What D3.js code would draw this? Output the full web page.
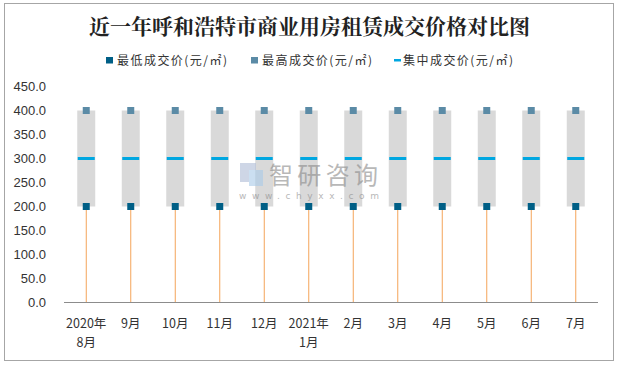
<!DOCTYPE html>
<html><head><meta charset="utf-8">
<script src="https://cdn.jsdelivr.net/npm/d3@7"></script>
<style>body{margin:0;background:#fff}svg{display:block}</style>
</head><body>
<script>
const categories = [["2020年","8月"],["9月"],["10月"],["11月"],["12月"],["2021年","1月"],["2月"],["3月"],["4月"],["5月"],["6月"],["7月"]];
const lowPrice  = [200,200,200,200,200,200,200,200,200,200,200,200];
const highPrice = [400,400,400,400,400,400,400,400,400,400,400,400];
const midPrice  = [300,300,300,300,300,300,300,300,300,300,300,300];
const yTicks = [0,50,100,150,200,250,300,350,400,450];
const seriesNames = ["最低成交价(元/㎡)","最高成交价(元/㎡)","集中成交价(元/㎡)"];

const W=618,H=365;
const svg=d3.select("body").append("svg").attr("width",W).attr("height",H);
svg.append("rect").attr("x",4.5).attr("y",3.5).attr("width",609).attr("height",357)
  .attr("fill","#fff").attr("stroke","#a6a6a6").attr("stroke-width",1);

const x=d3.scaleBand().domain(d3.range(categories.length)).range([64,598]).padding(0);
const y=d3.scaleLinear().domain([0,450]).range([302.5,86.5]);

svg.append("text").attr("x",309.5).attr("y",34).attr("text-anchor","middle")
  .attr("font-family","'Noto Serif CJK SC','Noto Sans CJK SC',serif").attr("font-weight","bold")
  .attr("font-size",21).attr("fill","#222").text("近一年呼和浩特市商业用房租赁成交价格对比图");

// legend
const lg=svg.append("g").attr("font-family","'Noto Sans CJK SC',sans-serif").attr("font-size",12).attr("fill","#333");
lg.append("rect").attr("x",106).attr("y",57).attr("width",7).attr("height",6.5).attr("fill","#005f86");
lg.append("rect").attr("x",251).attr("y",57).attr("width",7).attr("height",6.5).attr("fill","#5b8ba6");
lg.append("rect").attr("x",394).attr("y",59).attr("width",7).attr("height",2.5).attr("fill","#00a7e1");
[117,262,403].forEach((t,i)=>lg.append("text").attr("x",t).attr("y",64.5)
  .attr("textLength",110).attr("lengthAdjust","spacing").text(seriesNames[i]));

// y axis labels
svg.append("g").selectAll("text").data(yTicks).join("text")
  .attr("x",46).attr("y",d=>y(d)+4.5).attr("text-anchor","end")
  .attr("font-family","'Liberation Sans',Arial,sans-serif").attr("font-size",13).attr("fill","#333")
  .text(d=>d.toFixed(1));

const g=svg.append("g");
const idx=d3.range(categories.length);
const cx=i=>x(i)+x.bandwidth()/2;
// orange drop lines
g.selectAll(".drop").data(idx).join("line")
  .attr("x1",cx).attr("x2",cx).attr("y1",y(0)).attr("y2",i=>y(lowPrice[i]))
  .attr("stroke","#f4a45a").attr("stroke-width",1);
// grey up-down bars
g.selectAll(".box").data(idx).join("rect")
  .attr("x",i=>cx(i)-9).attr("width",18)
  .attr("y",i=>y(highPrice[i])).attr("height",i=>y(lowPrice[i])-y(highPrice[i]))
  .attr("fill","#d9d9d9");
// axis line
svg.append("line").attr("x1",64).attr("x2",598).attr("y1",302.5).attr("y2",302.5)
  .attr("stroke","#8c8c8c").attr("stroke-width",1);
// markers
g.selectAll(".lo").data(idx).join("rect")
  .attr("x",i=>cx(i)-3.5).attr("y",i=>y(lowPrice[i])-3.5).attr("width",7).attr("height",7).attr("fill","#005f86");
g.selectAll(".hi").data(idx).join("rect")
  .attr("x",i=>cx(i)-3.5).attr("y",i=>y(highPrice[i])-3.5).attr("width",7).attr("height",7).attr("fill","#5b8ba6");
g.selectAll(".mid").data(idx).join("rect")
  .attr("x",i=>cx(i)-8.5).attr("y",i=>y(midPrice[i])-1.5).attr("width",17).attr("height",3).attr("fill","#00a7e1");

// watermark (on top, translucent)
const wm=svg.append("g").attr("opacity",0.6);
wm.append("rect").attr("x",240).attr("y",163).attr("width",16).attr("height",19).attr("fill","#aebbd6");
wm.append("rect").attr("x",249).attr("y",170).attr("width",14).attr("height",16).attr("fill","#a9cbe8");
wm.append("text").attr("x",269).attr("y",184).attr("font-family","'Noto Sans CJK SC',sans-serif")
  .attr("font-size",24).attr("fill","#8a8a8a").attr("textLength",109).attr("lengthAdjust","spacing").text("智研咨询");
wm.append("text").attr("x",239).attr("y",199).attr("font-family","'DejaVu Sans',sans-serif")
  .attr("font-size",9).attr("fill","#8a8a8a").attr("textLength",140).attr("lengthAdjust","spacing").text("www.chyxx.com");

// x labels
const xl=svg.append("g").attr("font-family","'Noto Sans CJK SC',sans-serif").attr("font-size",12.5).attr("fill","#333").attr("text-anchor","middle");
idx.forEach(i=>{
  categories[i].forEach((s,k)=>xl.append("text").attr("x",cx(i)).attr("y",328+k*19).text(s));
});
</script>
</body></html>
